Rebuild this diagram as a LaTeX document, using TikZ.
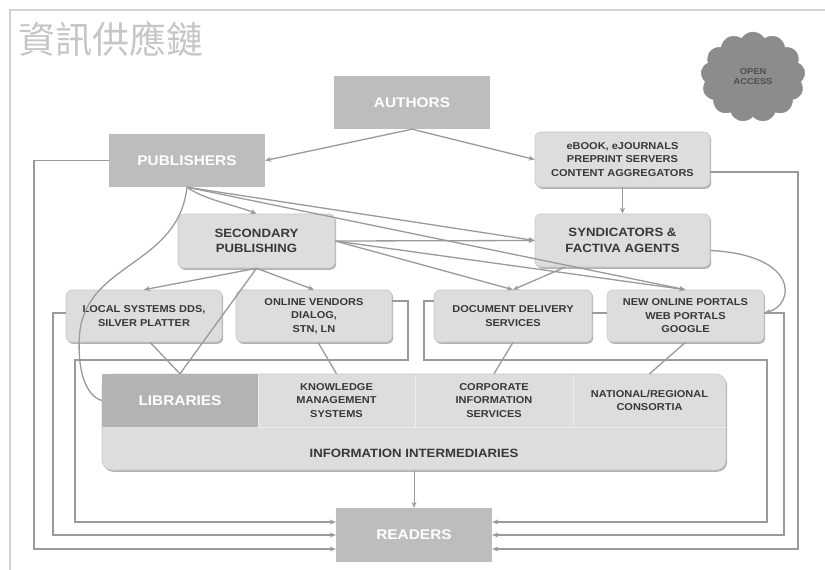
\documentclass[tikz,border=0pt]{standalone}
\usepackage{fontspec}
\setmainfont{Liberation Sans}[FakeStretch=1.1]
\newfontfamily\cjkfont{Noto Sans CJK TC}
\usetikzlibrary{shapes.symbols,shadows,arrows.meta,calc}
\definecolor{cDark}{HTML}{BDBDBD}
\definecolor{cLib}{HTML}{B3B3B3}
\definecolor{cLight}{HTML}{DDDDDD}
\definecolor{cEdge}{HTML}{C8C8C8}
\definecolor{cLine}{HTML}{9A9A9A}
\definecolor{cTxt}{HTML}{383838}
\definecolor{cCloud}{HTML}{8C8C8C}
\definecolor{cCloudTxt}{HTML}{4E4E4E}
\definecolor{cFrame}{HTML}{D2D2D2}
\definecolor{cTitle}{HTML}{C6C6C6}
\definecolor{cSep}{HTML}{ECECEC}
\tikzset{
  graybox/.style={draw=none, fill=cDark, text=white, font=\fontsize{14}{16}\selectfont\bfseries,
    minimum width=156pt, minimum height=53pt, inner sep=2pt, align=center},
  lightbox/.style={draw=cEdge, line width=.6pt, fill=cLight, rounded corners=6pt, text=cTxt,
    font=\fontsize{10}{13.5}\selectfont\bfseries, align=center, inner sep=2pt,
    minimum width=156pt, minimum height=52pt,
    drop shadow={shadow xshift=1.2pt, shadow yshift=-1.8pt, fill=black!50, opacity=.6}},
  bigtext/.style={font=\fontsize{12}{15.5}\selectfont\bfseries},
  celltext/.style={text=cTxt, font=\fontsize{10}{13.5}\selectfont\bfseries, align=center,
    minimum height=53pt, inner sep=1pt},
  conn/.style={draw=cLine, line width=1.3pt},
  arr/.style={conn, -{Stealth[length=6pt,width=5pt]}},
}
\begin{document}
\begin{tikzpicture}[x=1pt,y=-1pt]
\useasboundingbox (0,0) rectangle (825,570);
\fill[white] (0,0) rectangle (825,570);
\draw[cFrame, line width=1.5pt] (10,570) -- (10,10) -- (825,10);
\node[anchor=west, text=cTitle, font=\cjkfont\fontsize{37}{37}\selectfont, inner sep=0] (TITLE) at (18,39) {資訊供應鏈};
\node[cloud, cloud puffs=13, cloud puff arc=120, aspect=1.1, fill=cCloud, draw=cCloud,
  minimum width=104pt, minimum height=90pt, text=cCloudTxt, font=\fontsize{8.5}{10}\selectfont\bfseries,
  align=center] (OA) at (753,77) {OPEN\\ACCESS};

\node[graybox] (AUT) at (412,102.5) {AUTHORS};
\node[graybox] (PUB) at (187,160.5) {PUBLISHERS};
\node[lightbox, minimum width=175pt, minimum height=55pt] (EB) at (622.5,159.5) {eBOOK, eJOURNALS\\PREPRINT SERVERS\\CONTENT AGGREGATORS};
\node[lightbox, bigtext, minimum width=175pt, minimum height=53pt] (SYN) at (622.5,240.5) {SYNDICATORS \&\\FACTIVA AGENTS};
\node[lightbox, bigtext, minimum width=157pt, minimum height=54pt] (SEC) at (256.5,241) {SECONDARY\\PUBLISHING};
\node[lightbox] (LOC) at (144,316) {LOCAL SYSTEMS DDS,\\SILVER PLATTER};
\node[lightbox] (ONL) at (314,316) {ONLINE VENDORS\\DIALOG,\\STN, LN};
\node[lightbox, minimum width=158pt] (DOC) at (513,316) {DOCUMENT DELIVERY\\SERVICES};
\node[lightbox, minimum width=157pt] (NEW) at (685.5,316) {NEW ONLINE PORTALS\\WEB PORTALS\\GOOGLE};

\node[lightbox, rounded corners=10pt, minimum width=624pt, minimum height=96pt] (INFO) at (414,422) {};
\node[graybox, fill=cLib, minimum width=156pt, minimum height=53pt] (LIB) at (180,400.5) {LIBRARIES};
\draw[cSep, line width=1pt] (258,374.5) -- (258,427) (415,374.5) -- (415,427) (573,374.5) -- (573,427) (258,427) -- (725.5,427);
\node[celltext, minimum width=157pt] (KMS) at (336.5,400.5) {KNOWLEDGE\\MANAGEMENT\\SYSTEMS};
\node[celltext, minimum width=158pt] (CIS) at (494,400.5) {CORPORATE\\INFORMATION\\SERVICES};
\node[celltext, minimum width=153pt] (NRC) at (649.5,400.5) {NATIONAL/REGIONAL\\CONSORTIA};
\node[text=cTxt, bigtext, inner sep=1pt] (INFOL) at (414,453) {INFORMATION INTERMEDIARIES};

\node[graybox, minimum height=54pt] (READ) at (414,535) {READERS};

% main flows
\draw[arr] (AUT.south) -- (PUB.east);
\draw[arr] (AUT.south) -- (EB.west);
\draw[arr] (EB.south) -- (SYN.north);
\draw[arr] (PUB.south) .. controls (205,200) and (235,205) .. (SEC.north);
\draw[arr] (PUB.south) -- (SYN.west);
\draw[arr] (PUB.south) -- (NEW.north);
\draw[arr] (SEC.east) -- (SYN.west);
\draw[arr] (SEC.east) -- (DOC.north);
\draw[arr] (SEC.east) -- (NEW.north);
\draw[arr] ([xshift=30pt]SYN.south west) -- (DOC.north);
\draw[arr] (SEC.south) -- (LOC.north);
\draw[arr] (SEC.south) -- (ONL.north);
\draw[conn] (SEC.south) -- (LIB.north);
\draw[conn] ([xshift=6pt]LOC.south) -- (LIB.north);
\draw[conn] ([xshift=4pt]ONL.south) -- (KMS.north);
\draw[conn] (DOC.south) -- (CIS.north);
\draw[conn] (NEW.south) -- (NRC.north);
\draw[conn] ([yshift=3pt]DOC.east) -- ([yshift=3pt]NEW.west);
\draw[conn] (PUB.south) .. controls (178,265) and (90,262) .. (80,330) .. controls (76,370) and (86,396) .. (LIB.west);
\draw[arr] ([yshift=-10pt]SYN.east) .. controls (800,255) and (795,305) .. ([yshift=3pt]NEW.east);
\draw[arr, line width=1pt] (INFO.south) -- (READ.north);

% loops to readers
\draw[arr] (PUB.west) -- (34,160.5) |- ([yshift=-14pt]READ.west);
\draw[arr] ([yshift=3pt]LOC.west) -- (53,313) |- (READ.west);
\draw[arr] ([yshift=15pt]ONL.east) -- (408,301) -- (408,360) -- (75,360) |- ([yshift=13pt]READ.west);
\draw[arr] ([yshift=15pt]DOC.west) -- (424,301) -- (424,360) -- (767,360) |- ([yshift=13pt]READ.east);
\draw[arr] ([yshift=3pt]NEW.east) -- (784,313) |- (READ.east);
\draw[arr] ([yshift=-12.5pt]EB.east) -- (798,172) |- ([yshift=-14pt]READ.east);
\end{tikzpicture}
\end{document}
